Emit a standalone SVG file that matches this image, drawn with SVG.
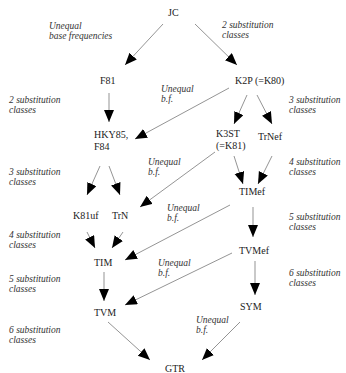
<svg xmlns="http://www.w3.org/2000/svg" width="346" height="373" viewBox="0 0 346 373">
<style>
.n{font-family:"Liberation Serif","DejaVu Serif",serif;font-size:10px;fill:#222}
.a{font-family:"Liberation Serif","DejaVu Serif",serif;font-size:9.5px;font-style:italic;fill:#333}
.c line{stroke:#666;stroke-width:0.7;marker-end:url(#ah)}
</style>
<defs>
<marker id="ah" markerUnits="userSpaceOnUse" markerWidth="14" markerHeight="12" refX="12" refY="5" orient="auto" viewBox="0 0 14 12">
<path d="M0,0 L12,5 L0,10 z" fill="#000"/>
</marker>
</defs>
<rect width="346" height="373" fill="#fff"/>
<g class="c" id="connectors">
<line x1="163" y1="24" x2="125" y2="65"/>
<line x1="195" y1="24" x2="237" y2="65"/>
<line x1="109" y1="93" x2="109" y2="122"/>
<line x1="229" y1="88" x2="135" y2="139"/>
<line x1="247" y1="95" x2="234" y2="124"/>
<line x1="257" y1="95" x2="272" y2="124"/>
<line x1="100" y1="166" x2="87" y2="195"/>
<line x1="109" y1="166" x2="120" y2="195"/>
<line x1="215" y1="152" x2="140" y2="207"/>
<line x1="234" y1="156" x2="243" y2="184"/>
<line x1="272" y1="156" x2="258" y2="184"/>
<line x1="253" y1="207" x2="253" y2="237"/>
<line x1="87" y1="232" x2="95" y2="248"/>
<line x1="123" y1="232" x2="112" y2="248"/>
<line x1="230" y1="205" x2="125" y2="260"/>
<line x1="104" y1="272" x2="104" y2="301"/>
<line x1="255" y1="261" x2="255" y2="295"/>
<line x1="232" y1="253" x2="125" y2="305"/>
<line x1="108" y1="322" x2="150" y2="360"/>
<line x1="240" y1="322" x2="202" y2="360"/>
</g>
<g id="JC"><text class="n" x="168" y="16">JC</text></g>
<g id="F81"><text class="n" x="100" y="84">F81</text></g>
<g id="K2P"><text class="n" x="235" y="84">K2P (=K80)</text></g>
<g id="HKY85"><text class="n" x="94" y="138">HKY85,</text><text class="n" x="94" y="150">F84</text></g>
<g id="K3ST"><text class="n" x="216" y="137">K3ST</text><text class="n" x="216" y="149">(=K81)</text></g>
<g id="TrNef"><text class="n" x="258" y="140">TrNef</text></g>
<g id="TIMef"><text class="n" x="239" y="195">TIMef</text></g>
<g id="K81uf"><text class="n" x="73" y="219">K81uf</text></g>
<g id="TrN"><text class="n" x="112" y="219">TrN</text></g>
<g id="TIM"><text class="n" x="94" y="266">TIM</text></g>
<g id="TVMef"><text class="n" x="239" y="254">TVMef</text></g>
<g id="TVM"><text class="n" x="94" y="316">TVM</text></g>
<g id="SYM"><text class="n" x="240" y="310">SYM</text></g>
<g id="GTR"><text class="n" x="165" y="372">GTR</text></g>
<g id="labels">
<text class="a" x="49" y="29">Unequal</text><text class="a" x="49" y="39">base frequencies</text>
<text class="a" x="222" y="28">2 substitution</text><text class="a" x="222" y="38">classes</text>
<text class="a" x="161" y="92">Unequal</text><text class="a" x="161" y="102">b.f.</text>
<text class="a" x="9" y="103">2 substitution</text><text class="a" x="9" y="113">classes</text>
<text class="a" x="289" y="103">3 substitution</text><text class="a" x="289" y="113">classes</text>
<text class="a" x="148" y="165">Unequal</text><text class="a" x="148" y="175">b.f.</text>
<text class="a" x="9" y="175">3 substitution</text><text class="a" x="9" y="185">classes</text>
<text class="a" x="289" y="165">4 substitution</text><text class="a" x="289" y="175">classes</text>
<text class="a" x="167" y="211">Unequal</text><text class="a" x="167" y="221">b.f.</text>
<text class="a" x="289" y="220">5 substitution</text><text class="a" x="289" y="230">classes</text>
<text class="a" x="9" y="238">4 substitution</text><text class="a" x="9" y="248">classes</text>
<text class="a" x="158" y="266">Unequal</text><text class="a" x="158" y="276">b.f.</text>
<text class="a" x="289" y="276">6 substitution</text><text class="a" x="289" y="286">classes</text>
<text class="a" x="9" y="282">5 substitution</text><text class="a" x="9" y="292">classes</text>
<text class="a" x="196" y="323">Unequal</text><text class="a" x="196" y="333">b.f.</text>
<text class="a" x="9" y="333">6 substitution</text><text class="a" x="9" y="343">classes</text>
</g>
</svg>
